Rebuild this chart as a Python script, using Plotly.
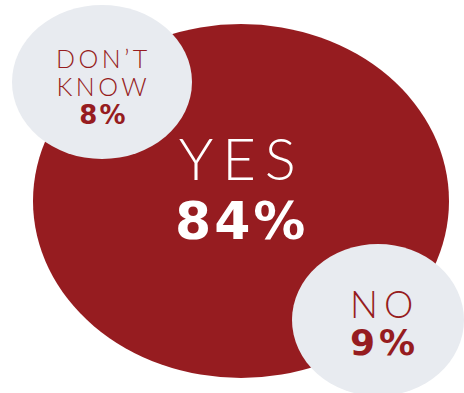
import plotly.graph_objects as go

labels = ["YES", "DON\u2019T<br>KNOW", "NO"]
values = [84, 8, 9]

RED = "#961C20"
GREY = "#E8EBF0"

# bubble geometry (pixel-like axis coords): cx, cy, rx, ry, fill
bubbles = [
    (241, 201, 208, 177, RED),
    (102, 82, 90, 77, GREY),
    (378, 320, 86, 76, GREY),
]
# text block: x, y, base size (line spacing), label size, label spacing, value size, value spacing, colour
text_style = [
    (241, 187, 45, 58, 9, 52, 3, "white"),
    (103, 86, 21.5, 25, 3.5, 26, 2, RED),
    (384, 322, 28.5, 37, 6, 36, 4, RED),
]

fig = go.Figure()
fig.add_trace(go.Scatter(x=[0, 464], y=[0, 393], mode="markers", marker=dict(opacity=0),
                         hoverinfo="skip", showlegend=False))

for cx, cy, rx, ry, col in bubbles:
    fig.add_shape(type="circle", xref="x", yref="y", x0=cx - rx, x1=cx + rx, y0=cy - ry, y1=cy + ry,
                  fillcolor=col, line=dict(width=0), layer="below")

for lab, val, (tx, ty, base, ls, lsp, vs, vsp, col) in zip(labels, values, text_style):
    parts = [f'<span style="letter-spacing:{lsp}px;font-size:{ls}px;font-weight:300">{p}</span>'
             for p in lab.split("<br>")]
    parts.append(f'<span style="font-family:\'DejaVu Sans\';font-weight:bold;'
                 f'letter-spacing:{vsp}px;font-size:{vs}px">{val}%</span>')
    fig.add_annotation(x=tx, y=ty, xref="x", yref="y", text="<br>".join(parts), showarrow=False,
                       yanchor="middle", xanchor="center",
                       font=dict(family="Lato", size=base, color=col, weight=300))

fig.update_layout(
    width=464, height=393, margin=dict(l=0, r=0, t=0, b=0),
    paper_bgcolor="white", plot_bgcolor="white",
    xaxis=dict(range=[0, 464], visible=False, fixedrange=True),
    yaxis=dict(range=[393, 0], visible=False, fixedrange=True),
    showlegend=False,
)
fig.write_html("out.html")
